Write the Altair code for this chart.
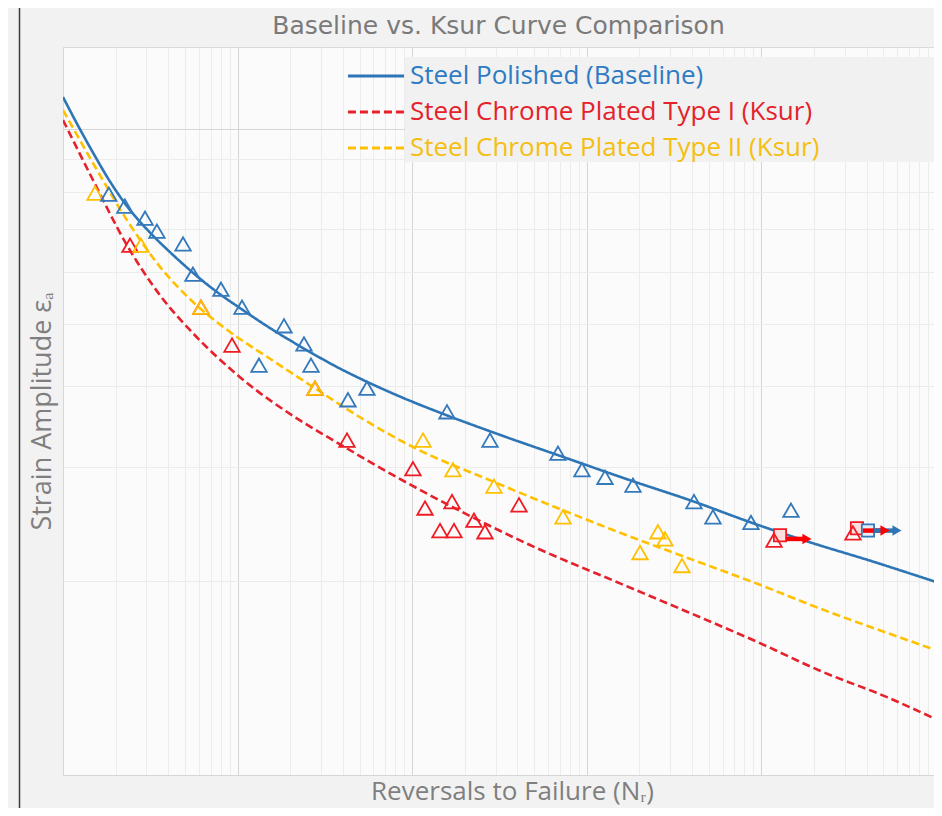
import altair as alt
import pandas as pd

# ---------------- data ----------------
SERIES = ["Steel Polished (Baseline)",
          "Steel Chrome Plated Type I (Ksur)",
          "Steel Chrome Plated Type II (Ksur)"]

# fitted strain-life curves (reversals, strain amplitude)
blue_line_n = [100, 121.9, 148.5, 185.8, 232.5, 315, 410, 555, 762, 1032, 1533, 2432, 3859,
               5510, 8512, 15820, 30600, 73070, 176800, 411200, 871900, 1825000, 4358000, 10000000]
blue_line_e = [0.01121, 0.010125, 0.009196, 0.008296, 0.007598, 0.006915, 0.006449, 0.005992,
               0.005594, 0.005283, 0.004920, 0.004564, 0.004258, 0.004062, 0.003854, 0.003604,
               0.003375, 0.003108, 0.00286, 0.00265, 0.00246, 0.00230, 0.00214, 0.00199]

red_line_n = [100, 148.5, 232.5, 359.4, 555.4, 1032, 2277, 3383, 8185, 19540, 47280, 155000,
              374900, 981800, 2166000, 5241000, 10000000]
red_line_e = [0.01033, 0.00834, 0.00661, 0.00553, 0.00483, 0.00413, 0.00354, 0.00332, 0.00289,
              0.00255, 0.00227, 0.00198, 0.00179, 0.00160, 0.00145, 0.00132, 0.00122]

yel_line_n = [100, 148.5, 232.5, 359.4, 555.4, 869.6, 1533, 2775, 5023, 10100, 30600, 73070,
              176800, 374900, 981800, 2166000, 5241000, 10000000]
yel_line_e = [0.01070, 0.00886, 0.00723, 0.00612, 0.00540, 0.00489, 0.00441, 0.00397, 0.00358,
              0.00322, 0.00283, 0.00257, 0.00234, 0.00217, 0.00197, 0.00181, 0.00166, 0.00156]

# test points (triangles)
blue_pts_n = [183, 226, 295, 345, 487, 555, 803, 1060, 1326, 1844, 2400, 2633, 4287, 5508,
              15820, 27890, 68390, 93850, 127100, 183900, 411000, 528000, 871700, 1477000]
blue_pts_e = [0.00793, 0.00760, 0.00728, 0.00695, 0.00664, 0.00596, 0.00565, 0.00530, 0.00431,
              0.00496, 0.00465, 0.00431, 0.00381, 0.00397, 0.00365, 0.00330, 0.00315, 0.00297,
              0.00289, 0.00281, 0.00265, 0.00251, 0.00246, 0.00257]

red_pts_n = [242, 617, 929, 2775, 4231, 10100, 11840, 16900, 14430, 17350, 22590, 26120, 40890,
             1181000, 3345000]
red_pts_e = [0.00661, 0.00530, 0.00463, 0.00397, 0.00330, 0.00298, 0.00259, 0.00265, 0.00239,
             0.00239, 0.00248, 0.00238, 0.00262, 0.00231, 0.00237]

yel_pts_n = [152.5, 279.6, 617, 2775, 11530, 17120, 29400, 73070, 201700, 255600, 280400, 350900]
yel_pts_e = [0.00796, 0.00661, 0.00530, 0.00397, 0.00330, 0.00297, 0.00280, 0.00251, 0.00221,
             0.00238, 0.00232, 0.00211]

# run-outs (squares with arrows)
run_series = [SERIES[1], SERIES[1], SERIES[0]]
run_n = [1278000, 3527000, 4077000]
run_e = [0.00235, 0.00241, 0.00239]
arrow_start_n = [1380000, 3810000, 4400000]
arrow_end_n = [1824000, 5104000, 5977000]
arrow_e = [0.00232, 0.00239, 0.00239]

# ---------------- styling ----------------
LINE_COLORS = ["#2e75b6", "#e5222b", "#ffc000"]
MARK_COLORS = ["#3379bb", "#f01c24", "#ffc000"]
ARROW_COLORS = ["#2e75b6", "#ff0000", "#ffc000"]
SQUARE_FILLS = ["#e3ecf7", "#fbdede", "#fff3cc"]
DASHES = [[1, 0], [8, 4], [8, 4]]

X_DOMAIN = [100, 9740000]
Y_DOMAIN = [0.001, 0.0134]
x_grid = [k * 10 ** e for e in range(2, 7) for k in range(1, 10)]
y_grid = [round(k * 0.001, 3) for k in range(1, 10)] + [0.01]

lines_df = pd.concat([
    pd.DataFrame({"series": SERIES[2], "n": yel_line_n, "eps": yel_line_e}),
    pd.DataFrame({"series": SERIES[1], "n": red_line_n, "eps": red_line_e}),
    pd.DataFrame({"series": SERIES[0], "n": blue_line_n, "eps": blue_line_e}),
], ignore_index=True)

points_df = pd.concat([
    pd.DataFrame({"series": SERIES[1], "n": red_pts_n, "eps": red_pts_e}),
    pd.DataFrame({"series": SERIES[2], "n": yel_pts_n, "eps": yel_pts_e}),
    pd.DataFrame({"series": SERIES[0], "n": blue_pts_n, "eps": blue_pts_e}),
], ignore_index=True)

run_df = pd.DataFrame({"series": run_series, "n": run_n, "eps": run_e,
                       "n0": arrow_start_n, "n1": arrow_end_n, "eps_a": arrow_e})

x_scale = alt.Scale(type="log", domain=X_DOMAIN, nice=False)
y_scale = alt.Scale(type="log", domain=Y_DOMAIN, nice=False)

x_major = "||".join(f"datum.value=={v}" for v in [100, 1000, 10000, 100000, 1000000])
y_major = "datum.value==0.001||datum.value==0.01"

FONT = "Open Sans"
x_axis = alt.Axis(values=x_grid, labels=False, ticks=False, domain=False, grid=True,
                  gridColor={"condition": {"test": x_major, "value": "#d6d6d6"}, "value": "#ececec"},
                  gridWidth=1,
                  title="Reversals to Failure (Nᵣ)", titleFont=FONT, titleFontSize=26,
                  titleFontWeight="normal", titleColor="#7f7f7f",
                  titleX=449, titleY=24, titleAlign="center", titleBaseline="alphabetic")
y_axis = alt.Axis(values=y_grid, labels=False, ticks=False, domain=False, grid=True,
                  gridColor={"condition": {"test": y_major, "value": "#d6d6d6"}, "value": "#ececec"},
                  gridWidth=1,
                  title="Strain Amplitude εₐ", titleFont=FONT, titleFontSize=27,
                  titleFontWeight="normal", titleColor="#7f7f7f",
                  titleX=-21, titleY=364, titleAlign="center", titleBaseline="middle", titleAngle=270)

label_expr = ("datum.value === '%s' ? '%s' : datum.value === '%s' ? '%s' : '%s'"
              % (SERIES[0], "#2e7bc4", SERIES[1], "#e5222b", "#f4bf12"))

legend = alt.Legend(title=None, orient="none", legendX=295, legendY=11, direction="vertical",
                    symbolType="M-1.7,0L1.7,0", symbolSize=1089, symbolStrokeWidth=3,
                    labelFont=FONT, labelFontSize=26, labelOffset=16, rowPadding=5, padding=0,
                    labelColor={"expr": label_expr}, labelLimit=600)

one_row = alt.Data(values=[{}])

box = alt.Chart(one_row).mark_rect(color="#f1f1f1").encode(
    x=alt.value(342), x2=alt.value(880), y=alt.value(10), y2=alt.value(115))

frame = alt.Chart(one_row).mark_rule(color="#3c3c3c", strokeWidth=1.5).encode(
    x=alt.value(-43.5), y=alt.value(-39), y2=alt.value(775))

lines = alt.Chart(lines_df).mark_line(strokeWidth=2.6, interpolate="monotone", clip=True).encode(
    x=alt.X("n:Q", scale=x_scale, axis=x_axis),
    y=alt.Y("eps:Q", scale=y_scale, axis=y_axis),
    color=alt.Color("series:N", scale=alt.Scale(domain=SERIES, range=LINE_COLORS), legend=legend),
    strokeDash=alt.StrokeDash("series:N", scale=alt.Scale(domain=SERIES, range=DASHES), legend=legend),
)

stroke_scale = alt.Scale(domain=SERIES, range=MARK_COLORS)

points = alt.Chart(points_df).mark_point(shape="triangle-up", size=240, strokeWidth=1.8,
                                         filled=False, opacity=1).encode(
    x="n:Q", y="eps:Q",
    stroke=alt.Stroke("series:N", scale=stroke_scale, legend=None))

squares = alt.Chart(run_df).mark_point(shape="square", size=150, strokeWidth=1.8,
                                       opacity=1).encode(
    x="n:Q", y="eps:Q",
    stroke=alt.Stroke("series:N", scale=stroke_scale, legend=None),
    fill=alt.Fill("series:N", scale=alt.Scale(domain=SERIES, range=SQUARE_FILLS), legend=None))

shafts = alt.Chart(run_df).mark_rule(strokeWidth=4.5).encode(
    x="n0:Q", x2="n1:Q", y="eps_a:Q",
    stroke=alt.Stroke("series:N", scale=alt.Scale(domain=SERIES, range=ARROW_COLORS), legend=None))

heads = alt.Chart(run_df).mark_point(shape="triangle-right", size=110, filled=True, opacity=1).encode(
    x="n1:Q", y="eps_a:Q",
    fill=alt.Fill("series:N", scale=alt.Scale(domain=SERIES, range=ARROW_COLORS), legend=None))

squares_layer = alt.layer(squares)
arrows_layer = alt.layer(shafts, heads)

chart = alt.layer(box, frame, lines, squares_layer, arrows_layer, points).resolve_scale(
    fill="independent", stroke="independent"
).properties(
    width=871, height=728,
    title=alt.TitleParams("Baseline vs. Ksur Curve Comparison", font="DejaVu Sans", fontSize=25,
                          fontWeight="normal", color="#7a7a7a", anchor="middle", offset=-52,
                          baseline="alphabetic"),
    autosize=alt.AutoSizeParams(type="none"),
    padding={"left": 55, "top": 39, "right": 0, "bottom": 33},
).configure(background="#f2f2f2").configure_view(fill="#fbfbfb", stroke="#d9d9d9", strokeWidth=1)

chart.save("out.html", embed_options={"renderer": "svg", "actions": False})
